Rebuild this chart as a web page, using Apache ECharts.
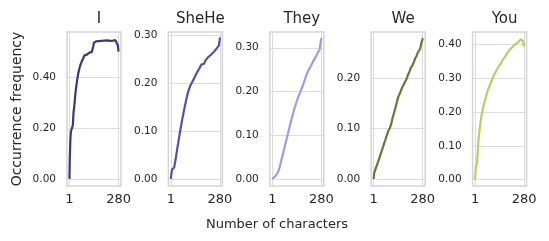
<!DOCTYPE html>
<html>
<head>
<meta charset="utf-8">
<script src="https://cdn.jsdelivr.net/npm/echarts@6/dist/echarts.min.js"></script>
<style>html,body{margin:0;padding:0;background:#fff}#c{width:549px;height:241px}</style>
</head>
<body>
<div id="c"></div>
<script>
const panelNames = ['I', 'SheHe', 'They', 'We', 'You'];
const xTickLabels = [1, 280];

const xI = [1, 3, 6, 9, 12, 16, 20, 24, 29, 34, 38, 44, 50, 56, 62, 70, 78, 86, 94, 100, 108, 116, 122, 128, 132, 136, 140, 146, 152, 160, 168, 176, 184, 192, 200, 208, 216, 224, 232, 240, 248, 256, 262, 268, 272, 276, 280];
const yI = [0, 0.08, 0.15, 0.185, 0.188, 0.19, 0.21, 0.26, 0.29, 0.33, 0.355, 0.385, 0.41, 0.43, 0.445, 0.46, 0.472, 0.485, 0.49, 0.488, 0.495, 0.497, 0.496, 0.497, 0.5, 0.52, 0.535, 0.538, 0.54, 0.536, 0.541, 0.538, 0.542, 0.539, 0.543, 0.54, 0.544, 0.539, 0.542, 0.538, 0.543, 0.541, 0.545, 0.543, 0.55, 0.525, 0.5];

const xSheHe = [1, 4, 8, 12, 16, 20, 25, 30, 36, 42, 48, 55, 62, 70, 78, 86, 94, 102, 110, 118, 126, 134, 142, 150, 158, 166, 174, 182, 190, 198, 206, 214, 222, 230, 238, 246, 254, 262, 268, 274, 278, 280];
const ySheHe = [0, 0.01, 0.02, 0.021, 0.022, 0.024, 0.035, 0.045, 0.06, 0.073, 0.087, 0.102, 0.117, 0.132, 0.147, 0.161, 0.174, 0.185, 0.193, 0.199, 0.203, 0.21, 0.216, 0.222, 0.227, 0.232, 0.238, 0.242, 0.24, 0.247, 0.251, 0.254, 0.252, 0.259, 0.262, 0.265, 0.268, 0.272, 0.27, 0.278, 0.288, 0.295];

const xThey = [1, 8, 15, 22, 30, 38, 46, 54, 62, 70, 78, 86, 94, 102, 110, 118, 126, 134, 142, 150, 158, 166, 174, 182, 190, 198, 206, 214, 222, 230, 238, 246, 254, 262, 270, 276, 280];
const yThey = [0, 0.003, 0.005, 0.008, 0.013, 0.02, 0.032, 0.045, 0.058, 0.071, 0.084, 0.097, 0.11, 0.123, 0.136, 0.148, 0.16, 0.17, 0.18, 0.189, 0.196, 0.205, 0.213, 0.222, 0.232, 0.24, 0.248, 0.253, 0.26, 0.266, 0.272, 0.278, 0.284, 0.29, 0.296, 0.3, 0.322];

const xWe = [1, 4, 8, 12, 16, 22, 28, 34, 40, 46, 52, 60, 68, 76, 84, 92, 100, 108, 116, 124, 132, 140, 148, 156, 164, 172, 180, 188, 196, 204, 212, 220, 228, 236, 244, 252, 260, 266, 270, 274, 278, 280];
const yWe = [0, 0.012, 0.016, 0.02, 0.023, 0.03, 0.036, 0.042, 0.048, 0.055, 0.061, 0.07, 0.078, 0.087, 0.095, 0.1, 0.108, 0.12, 0.13, 0.14, 0.151, 0.162, 0.168, 0.175, 0.182, 0.187, 0.193, 0.198, 0.206, 0.212, 0.22, 0.224, 0.23, 0.238, 0.243, 0.25, 0.255, 0.259, 0.262, 0.272, 0.276, 0.279];

const xYou = [1, 3, 6, 9, 12, 15, 18, 22, 26, 30, 35, 40, 46, 52, 58, 66, 74, 82, 90, 100, 110, 120, 130, 140, 150, 160, 170, 180, 190, 200, 210, 220, 230, 240, 248, 256, 262, 266, 270, 274, 278, 280];
const yYou = [0, 0.02, 0.04, 0.045, 0.047, 0.07, 0.1, 0.125, 0.145, 0.16, 0.18, 0.195, 0.21, 0.225, 0.235, 0.25, 0.265, 0.275, 0.285, 0.298, 0.31, 0.32, 0.33, 0.335, 0.345, 0.355, 0.362, 0.37, 0.378, 0.383, 0.39, 0.395, 0.4, 0.405, 0.407, 0.41, 0.415, 0.418, 0.412, 0.408, 0.398, 0.393];

const yTicks = [[0, 0.2, 0.4], [0, 0.1, 0.2, 0.3], [0, 0.1, 0.2, 0.3], [0, 0.1, 0.2], [0, 0.1, 0.2, 0.3, 0.4]];
const yRanges = [[-0.028, 0.577], [-0.0146, 0.306], [-0.016, 0.336], [-0.0139, 0.291], [-0.0186, 0.436]];
const colors = ['#393b79', '#5254a3', '#9c9ede', '#637939', '#b5cf6b'];

const xsAll = [xI, xSheHe, xThey, xWe, xYou];
const ysAll = [yI, ySheHe, yThey, yWe, yYou];

const FONT = 'DejaVu Sans';
const TXT = '#262626';
const GRIDC = '#dcdcdc';
const lefts = [67, 168.4, 269.8, 371.2, 472.6];
const W = 54, TOP = 32, H = 154;

const grids = [], xAxes = [], yAxes = [], series = [], titles = [];
for (let i = 0; i < 5; i++) {
  grids.push({left: lefts[i], top: TOP, width: W, height: H, show: true, borderColor: '#d4d4d4', borderWidth: 1.5, backgroundColor: '#fff'});
  xAxes.push({
    type: 'value', gridIndex: i, min: -13, max: 294,
    axisLine: {show: false},
    axisTick: {show: false, customValues: xTickLabels},
    axisLabel: {customValues: xTickLabels, fontFamily: FONT, fontSize: 13, color: TXT, margin: 7},
    splitLine: {show: true, lineStyle: {color: GRIDC, width: 1.2}}
  });
  yAxes.push({
    type: 'value', gridIndex: i, min: yRanges[i][0], max: yRanges[i][1],
    axisLine: {show: false},
    axisTick: {show: false, customValues: yTicks[i]},
    axisLabel: {customValues: yTicks[i], fontFamily: FONT, fontSize: 10.5, color: TXT, margin: 11,
      formatter: v => v.toFixed(2)},
    splitLine: {show: true, lineStyle: {color: GRIDC, width: 1.2}},
    name: i === 0 ? 'Occurrence frequency' : '',
    nameLocation: 'middle', nameGap: 43, nameRotate: 90,
    nameTextStyle: {fontFamily: FONT, fontSize: 14, color: TXT}
  });
  series.push({
    type: 'line', xAxisIndex: i, yAxisIndex: i, showSymbol: false, symbol: 'none',
    lineStyle: {color: colors[i], width: 2.2}, itemStyle: {color: colors[i]},
    data: xsAll[i].map((x, k) => [x, ysAll[i][k]]), animation: false
  });
  titles.push({text: panelNames[i], left: lefts[i] + W / 2, top: 7, textAlign: 'center',
    textStyle: {fontFamily: FONT, fontSize: 15, fontWeight: 'normal', color: TXT}});
}
titles.push({text: 'Number of characters', left: 272, top: 213, textAlign: 'center',
  textStyle: {fontFamily: FONT, fontSize: 13, fontWeight: 'normal', color: TXT}});

const chart = echarts.init(document.getElementById('c'), null, {renderer: 'canvas'});
chart.setOption({
  backgroundColor: '#fff', animation: false,
  title: titles, grid: grids, xAxis: xAxes, yAxis: yAxes, series: series
});
</script>
</body>
</html>
